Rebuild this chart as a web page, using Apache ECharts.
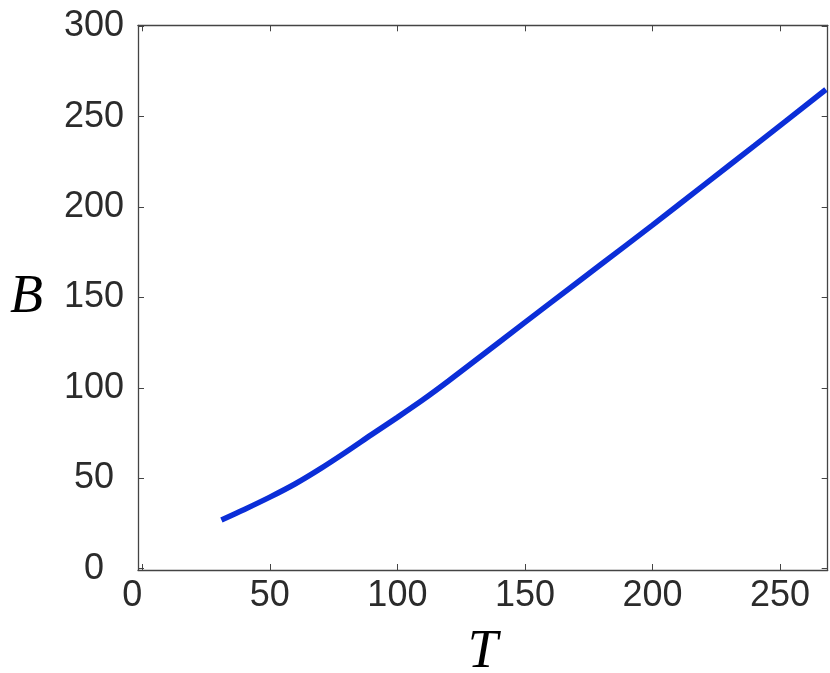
<!DOCTYPE html>
<html>
<head>
<meta charset="utf-8">
<script src="https://cdn.jsdelivr.net/npm/echarts@6/dist/echarts.min.js"></script>
<style>
  html, body { margin: 0; padding: 0; background: #fff; }
  #chart { width: 830px; height: 673px; }
</style>
</head>
<body>
<div id="chart"></div>
<script>
// data
var tValues = [31, 40, 50, 60, 70, 80, 90, 100, 110, 120, 140, 160, 180, 200, 220, 240, 268];
var bValues = [27, 32.8, 39.6, 47, 55.5, 64.7, 74.3, 83.7, 93.4, 103.8, 125.4, 147, 168.5, 190, 212, 234, 265];
var xTicks = [0, 50, 100, 150, 200, 250];
var yTicks = [0, 50, 100, 150, 200, 250, 300];

var chart = echarts.init(document.getElementById('chart'));

var axisCol = '#444';
var textCol = '#2b2b2b';

var points = [];
for (var i = 0; i < tValues.length; i++) {
    points.push([tValues[i], bValues[i]]);
}

// shared look for the MATLAB style box axes
function boxAxis(pos, min, max, ticks, showLabel) {
    return {
        type: 'value',
        position: pos,
        min: min,
        max: max,
        splitLine: { show: false },
        axisLine: { show: true, onZero: false, lineStyle: { color: axisCol, width: 1.3 } },
        axisTick: {
            show: true,
            inside: true,
            length: 6,
            customValues: ticks,
            lineStyle: { color: axisCol, width: 1 }
        },
        axisLabel: {
            show: showLabel,
            customValues: ticks,
            color: textCol,
            fontSize: 36,
            fontFamily: 'Liberation Sans'
        }
    };
}

var xBottom = boxAxis('bottom', -1.7, 268.7, xTicks, true);
xBottom.axisLabel.margin = 8;
xBottom.axisLabel.alignMinLabel = 'right';
xBottom.name = 'T';
xBottom.nameLocation = 'middle';
xBottom.nameGap = 56;
xBottom.nameTextStyle = {
    fontFamily: 'Liberation Serif',
    fontStyle: 'italic',
    fontSize: 54,
    color: '#000'
};

var xTop = boxAxis('top', -1.7, 268.7, xTicks, false);

var yLeft = boxAxis('left', -0.7, 300.5, yTicks, true);
yLeft.axisLabel.align = 'center';
yLeft.axisLabel.margin = 44;
yLeft.name = 'B';
yLeft.nameLocation = 'middle';
yLeft.nameRotate = 0;
yLeft.nameGap = 95;
yLeft.nameTextStyle = {
    fontFamily: 'Liberation Serif',
    fontStyle: 'italic',
    fontSize: 54,
    color: '#000',
    padding: [9, 0, 0, 0]
};

var yRight = boxAxis('right', -0.7, 300.5, yTicks, false);

var option = {
    backgroundColor: '#fff',
    animation: false,
    grid: {
        left: 138,
        right: 2.3,
        top: 25.3,
        bottom: 103,
        containLabel: false,
        outerBoundsMode: 'none'
    },
    xAxis: [xBottom, xTop],
    yAxis: [yLeft, yRight],
    series: [{
        type: 'line',
        xAxisIndex: 0,
        yAxisIndex: 0,
        data: points,
        showSymbol: false,
        smooth: 0.3,
        lineStyle: { color: '#0b2ed8', width: 5.5, cap: 'butt' }
    }]
};

chart.setOption(option);
</script>
</body>
</html>
